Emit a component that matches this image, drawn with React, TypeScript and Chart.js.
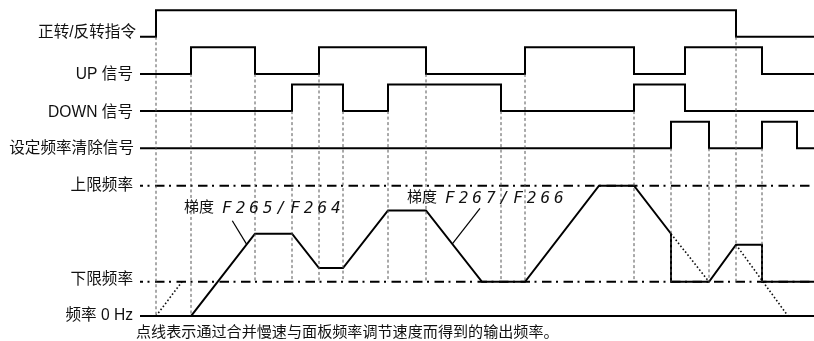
import React, { useEffect, useRef } from 'react';
import { Chart, registerables } from 'chart.js';
Chart.register(...registerables);

// ---- time axis (arbitrary ticks; t = 0 where the traces begin) ----
const T_END = 674;

// ---- digital signals: start low, toggle at each edge time ----
const signalNames = ['正转/反转指令', 'UP 信号', 'DOWN 信号', '设定频率清除信号'];
const fwdEdges = [16, 596];
const upEdges = [51, 115, 179, 286, 385, 494, 545, 622];
const downEdges = [152, 203, 248, 361, 494, 545];
const clearEdges = [531, 569, 622, 657];

// ---- output frequency (relative units: 0 Hz = 0, lower limit = 25, upper limit = 95) ----
const LOWER = 25;
const UPPER = 95;
const freqLabels = ['上限频率', '下限频率', '频率 0 Hz'];
const freqTimes = [51, 115, 152, 179, 203, 248, 286, 342, 385, 459, 494, 531, 531, 569, 596, 622, 622, 674];
const freqValues = [0, 60, 60, 35, 35, 77, 77, 25, 25, 95, 95, 60, 25, 25, 52, 52, 25, 25];

// dotted: frequency obtained by combining slow speed and panel adjustment speed
const dot1Times = [16, 42];
const dot1Values = [0, 25];
const dot2Times = [531, 569];
const dot2Values = [60, 25];
const dot3Times = [596, 648];
const dot3Values = [52, 0];

// vertical guide lines: time, signal row they hang from, frequency they reach down to
const guideTimes = [16, 51, 115, 152, 179, 203, 248, 286, 361, 385, 494, 531, 569, 596, 622];
const guideRows = [0, 1, 1, 2, 1, 2, 2, 1, 2, 1, 2, 3, 3, 0, 3];
const guideEnds = [0, 0, 25, 25, 25, 25, 25, 25, 25, 25, 25, 25, 25, 25, 25];

// ramp annotations
const rampWord = '梯度';
const ramp1Code = 'F265/F264';
const ramp2Code = 'F267/F266';
const footnote = '点线表示通过合并慢速与面板频率调节速度而得到的输出频率。';

// ---- layout (in scale units) ----
const Y_MIN = -18.2;
const Y_MAX = 230.4;
const ROW_LOW0 = 203.6;
const ROW_STEP = 27.1;
const ROW_H = 19.4;
const rowLow = (i: number) => ROW_LOW0 - i * ROW_STEP;

function stepPoints(edges: number[], row: number) {
  const lo = rowLow(row);
  const hi = lo + ROW_H;
  let level = 0;
  const pts: { x: number; y: number }[] = [{ x: 0, y: lo }];
  edges.forEach((t) => {
    pts.push({ x: t, y: level ? hi : lo });
    level = 1 - level;
    pts.push({ x: t, y: level ? hi : lo });
  });
  pts.push({ x: T_END, y: level ? hi : lo });
  return pts;
}

const zip = (ts: number[], vs: number[]) => ts.map((t, i) => ({ x: t, y: vs[i] }));

function onRamp(i: number, frac: number) {
  return {
    x: freqTimes[i] + (freqTimes[i + 1] - freqTimes[i]) * frac,
    y: freqValues[i] + (freqValues[i + 1] - freqValues[i]) * frac,
  };
}

const FONT = '"Liberation Sans", "Noto Sans CJK SC", sans-serif';

const textPlugin = {
  id: 'diagramText',
  afterDatasetsDraw(chart: any) {
    const { ctx } = chart;
    const x = chart.scales.x;
    const y = chart.scales.y;
    ctx.save();
    ctx.fillStyle = '#111';
    ctx.font = '15.6px ' + FONT;
    ctx.textBaseline = 'middle';
    ctx.textAlign = 'right';
    const sigDy = [-4, 1, 2, 0];
    const sigDx = [2, -1, -1, 0];
    signalNames.forEach((n, i) => {
      ctx.fillText(n, x.getPixelForValue(-6) + sigDx[i], y.getPixelForValue(rowLow(i)) + sigDy[i]);
    });
    const fv = [UPPER, LOWER, 0];
    const fDy = [0, -2, 0];
    freqLabels.forEach((n, i) => {
      ctx.fillText(n, x.getPixelForValue(-7), y.getPixelForValue(fv[i]) + fDy[i]);
    });
    // footnote
    ctx.font = '15.1px ' + FONT;
    ctx.textAlign = 'left';
    ctx.fillText(footnote, x.getPixelForValue(-4), y.getPixelForValue(-12.5));
    // ramp labels
    const drawRamp = (t: number, v: number, code: string) => {
      const px = x.getPixelForValue(t);
      const py = y.getPixelForValue(v);
      ctx.font = '15px ' + FONT;
      ctx.letterSpacing = '0px';
      ctx.fillText(rampWord, px, py);
      ctx.font = 'italic 16px "DejaVu Sans Mono", monospace';
      ctx.letterSpacing = '4px';
      ctx.fillText(code, px + 38, py + 1);
      ctx.letterSpacing = '0px';
    };
    drawRamp(44, 79, ramp1Code);
    drawRamp(267, 86.5, ramp2Code);
    ctx.restore();
  },
};

export default function App() {
  const ref = useRef<HTMLCanvasElement | null>(null);
  useEffect(() => {
    if (!ref.current) return;
    const base = {
      borderColor: '#000',
      borderWidth: 2,
      pointRadius: 0,
      fill: false,
      tension: 0,
      borderJoinStyle: 'miter' as const,
      borderCapStyle: 'butt' as const,
    };
    const datasets: any[] = [];
    // guides
    guideTimes.forEach((t, i) => {
      datasets.push({
        ...base,
        data: [
          { x: t, y: rowLow(guideRows[i]) },
          { x: t, y: guideEnds[i] },
        ],
        borderColor: '#555',
        borderWidth: 1,
        borderDash: [3, 2.5],
      });
    });
    // limit lines
    [UPPER, LOWER].forEach((v) => {
      datasets.push({
        ...base,
        data: [
          { x: 0, y: v },
          { x: T_END, y: v },
        ],
        borderDash: [9.5, 4.5, 2, 5.5],
        borderDashOffset: 6.5,
      });
    });
    // 0 Hz baseline
    datasets.push({ ...base, data: [{ x: 0, y: 0 }, { x: T_END, y: 0 }] });
    // signals
    [fwdEdges, upEdges, downEdges, clearEdges].forEach((e, i) => {
      datasets.push({ ...base, data: stepPoints(e, i) });
    });
    // output frequency
    datasets.push({ ...base, data: zip(freqTimes, freqValues) });
    // dotted combined frequency
    [
      [dot1Times, dot1Values],
      [dot2Times, dot2Values],
      [dot3Times, dot3Values],
    ].forEach(([ts, vs]) => {
      datasets.push({ ...base, data: zip(ts, vs), borderWidth: 1.6, borderDash: [1.6, 2.2], borderColor: '#111' });
    });
    // leader lines
    datasets.push({ ...base, borderWidth: 1.2, data: [{ x: 92.3, y: 69.5 }, onRamp(0, 0.87)] });
    datasets.push({ ...base, borderWidth: 1.2, data: [{ x: 340, y: 78.5 }, onRamp(6, 0.47)] });

    const chart = new Chart(ref.current, {
      type: 'line',
      data: { datasets },
      options: {
        animation: false,
        responsive: false,
        layout: { padding: 0 },
        plugins: { legend: { display: false }, tooltip: { enabled: false } },
        events: [],
        scales: {
          x: { type: 'linear', display: false, min: -140, max: T_END },
          y: { type: 'linear', display: false, min: Y_MIN, max: Y_MAX },
        },
      },
      plugins: [textPlugin],
    });
    return () => chart.destroy();
  }, []);
  return (
    <div style={{ position: 'absolute', left: 0, top: 0, width: 814, height: 341, background: '#fff' }}>
      <canvas ref={ref} width={814} height={341} style={{ display: 'block' }} />
    </div>
  );
}
